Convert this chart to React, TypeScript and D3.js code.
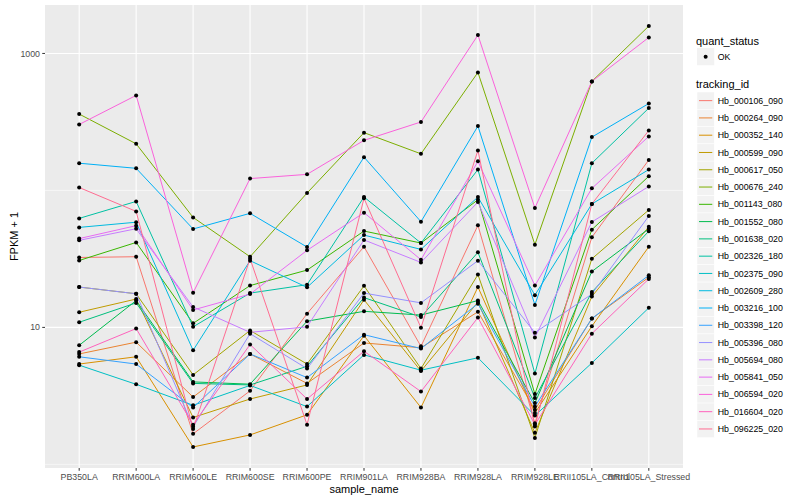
import React from "react";
import * as d3 from "d3";

const samples = ["PB350LA","RRIM600LA","RRIM600LE","RRIM600SE","RRIM600PE","RRIM901LA","RRIM928BA","RRIM928LA","RRIM928LE","RRII105LA_Control","RRII105LA_Stressed"];

const trackingIds = ["Hb_000106_090","Hb_000264_090","Hb_000352_140","Hb_000599_090","Hb_000617_050","Hb_000676_240","Hb_001143_080","Hb_001552_080","Hb_001638_020","Hb_002326_180","Hb_002375_090","Hb_002609_280","Hb_003216_100","Hb_003398_120","Hb_005396_080","Hb_005694_080","Hb_005841_050","Hb_006594_020","Hb_016604_020","Hb_096225_020"];

const colors = ["#F8766D","#EA8331","#D89000","#C09B00","#A3A500","#7CAE00","#39B600","#00BB4E","#00BF7D","#00C1A3","#00BFC4","#00BAE0","#00B0F6","#35A2FF","#9590FF","#C77CFF","#E76BF3","#FA62DB","#FF62BC","#FF6C91"];

const s000106 = [32.4, 32.8, 1.67, 3.44, 12.6, 38.8, 7.27, 55.6, 2.0, 45.5, 167];
const s000264 = [6.4, 7.8, 3.1, 6.4, 3.9, 7.7, 7.1, 13.0, 2.5, 11.6, 23.2];
const s000352 = [5.4, 6.1, 1.34, 1.64, 2.3, 8.7, 2.6, 19.7, 2.37, 10.2, 38.8];
const s000599 = [12.9, 16.1, 2.2, 3.0, 3.8, 15.9, 4.8, 15.3, 1.7, 16.8, 54.3];
const s000617 = [19.7, 17.6, 4.5, 9.5, 5.4, 20.1, 5.0, 24.3, 1.56, 31.7, 72];
const s000676 = [361, 219, 63.5, 32.8, 95.7, 264, 185, 727, 40.2, 625, 1585];
const s001143 = [30.8, 41.7, 10.7, 20.2, 26.2, 50.5, 41.3, 85.5, 3.26, 51.7, 127];
const s001552 = [7.4, 15.7, 4.0, 3.85, 11.1, 13.1, 12.3, 15.7, 2.8, 25.6, 52.5];
const s001638 = [10.9, 15.1, 3.9, 3.8, 5.2, 16.5, 11.9, 35.3, 3.05, 18.1, 50.4];
const s002326 = [62.5, 83.1, 10.1, 17.8, 20.5, 89.5, 41.3, 142, 4.6, 158, 399];
const s002375 = [5.3, 3.84, 2.7, 3.77, 2.64, 6.3, 4.87, 6.0, 2.27, 5.5, 13.9];
const s002609 = [53.7, 58.6, 6.8, 30.7, 19.6, 47.2, 37.1, 89.5, 17.2, 79.6, 142];
const s003216 = [158, 145, 52.3, 68, 38.6, 175, 59.1, 295, 14.6, 245, 431];
const s003398 = [6.1, 5.4, 2.6, 6.4, 4.3, 8.85, 7.0, 14.9, 2.65, 11.6, 24.0];
const s005396 = [19.7, 17.6, 1.88, 9.0, 5.0, 17.8, 15.1, 30.7, 9.15, 17.5, 65];
const s005694 = [43.2, 52.5, 14.1, 9.2, 10.1, 43.5, 29.8, 82.3, 8.45, 58.8, 107];
const s005841 = [44.5, 55.3, 13.4, 17.5, 36.5, 68.8, 31.2, 163, 20.2, 103.5, 248];
const s006594 = [303, 494, 17.9, 122, 131, 232, 316, 1362, 74.4, 625, 1309];
const s016604 = [6.6, 9.8, 1.95, 7.5, 3.0, 6.7, 3.4, 11.8, 1.95, 9.0, 22.6];
const s096225 = [105, 70.3, 1.81, 31.7, 1.95, 87.5, 9.95, 196, 1.89, 79.6, 274];

const seriesValues = [s000106, s000264, s000352, s000599, s000617, s000676, s001143, s001552, s001638, s002326, s002375, s002609, s003216, s003398, s005396, s005694, s005841, s006594, s016604, s096225];

const yTickLabels = [10, 1000];
const yMinorBreaks = [1, 100];

const FONT = "'Liberation Sans', Arial, Helvetica, sans-serif";

export default function App() {
  const panel = { left: 45, right: 683, top: 5, bottom: 468 };
  const all = seriesValues.flat();
  const lmin = Math.log10(d3.min(all) as number);
  const lmax = Math.log10(d3.max(all) as number);
  const pad = (lmax - lmin) * 0.05;
  const y = d3.scaleLog().domain([Math.pow(10, lmin - pad), Math.pow(10, lmax + pad)]).range([panel.bottom, panel.top]);
  const x = d3.scalePoint<string>().domain(samples).range([panel.left, panel.right]).padding(0.6);
  const line = d3.line<number>().x((_, i) => x(samples[i]) as number).y(v => y(v));

  const legX = 697;
  const keyH = 17.28;
  const firstKey = 92;

  return (
    <svg width={800} height={500} style={{ position: "absolute", left: 0, top: 0, fontFamily: FONT }}>
      <rect x={0} y={0} width={800} height={500} fill="#FFFFFF" />
      <rect x={panel.left} y={panel.top} width={panel.right - panel.left} height={panel.bottom - panel.top} fill="#EBEBEB" />
      {yMinorBreaks.map(v => (
        <line key={"mn" + v} x1={panel.left} x2={panel.right} y1={y(v)} y2={y(v)} stroke="#FFFFFF" strokeWidth={0.55} />
      ))}
      {yTickLabels.map(v => (
        <line key={"mj" + v} x1={panel.left} x2={panel.right} y1={y(v)} y2={y(v)} stroke="#FFFFFF" strokeWidth={1.1} />
      ))}
      {samples.map(s => (
        <line key={"vg" + s} x1={x(s)} x2={x(s)} y1={panel.top} y2={panel.bottom} stroke="#FFFFFF" strokeWidth={1.1} />
      ))}
      {seriesValues.map((vals, i) => (
        <path key={"l" + i} d={line(vals) as string} fill="none" stroke={colors[i]} strokeWidth={1} />
      ))}
      {seriesValues.map((vals, i) =>
        vals.map((v, j) => (
          <circle key={"p" + i + "_" + j} cx={x(samples[j])} cy={y(v)} r={2} fill="#000000" />
        ))
      )}
      {/* y axis */}
      {yTickLabels.map(v => (
        <g key={"yt" + v}>
          <line x1={panel.left - 2.75} x2={panel.left} y1={y(v)} y2={y(v)} stroke="#333333" strokeWidth={1} />
          <text x={panel.left - 5} y={y(v)} dy="0.35em" textAnchor="end" fontSize={8.8} fill="#4D4D4D">{v}</text>
        </g>
      ))}
      {/* x axis */}
      {samples.map(s => (
        <g key={"xt" + s}>
          <line x1={x(s)} x2={x(s)} y1={panel.bottom} y2={panel.bottom + 2.75} stroke="#333333" strokeWidth={1} />
          <text x={x(s)} y={panel.bottom + 12} textAnchor="middle" fontSize={8.8} fill="#4D4D4D">{s}</text>
        </g>
      ))}
      <text x={(panel.left + panel.right) / 2} y={493} textAnchor="middle" fontSize={11} fill="#000000">sample_name</text>
      <text transform={`translate(18, ${(panel.top + panel.bottom) / 2}) rotate(-90)`} textAnchor="middle" fontSize={11} fill="#000000">FPKM + 1</text>
      {/* legend: quant_status */}
      <text x={legX - 1} y={44.5} fontSize={11} fill="#000000">quant_status</text>
      <rect x={legX} y={48} width={keyH} height={keyH} fill="#F2F2F2" />
      <circle cx={legX + keyH / 2} cy={48 + keyH / 2} r={2} fill="#000000" />
      <text x={legX + keyH + 3.5} y={48 + keyH / 2} dy="0.35em" fontSize={8.8} fill="#000000">OK</text>
      {/* legend: tracking_id */}
      <text x={legX - 1} y={88} fontSize={11} fill="#000000">tracking_id</text>
      {trackingIds.map((id, i) => {
        const ky = firstKey + i * keyH;
        return (
          <g key={"lg" + id}>
            <rect x={legX} y={ky} width={keyH} height={keyH} fill="#F2F2F2" stroke="#FFFFFF" strokeWidth={0.5} />
            <line x1={legX + 2} x2={legX + keyH - 2} y1={ky + keyH / 2} y2={ky + keyH / 2} stroke={colors[i]} strokeWidth={1} />
            <text x={legX + keyH + 3.5} y={ky + keyH / 2} dy="0.35em" fontSize={8.8} fill="#000000">{id}</text>
          </g>
        );
      })}
    </svg>
  );
}
